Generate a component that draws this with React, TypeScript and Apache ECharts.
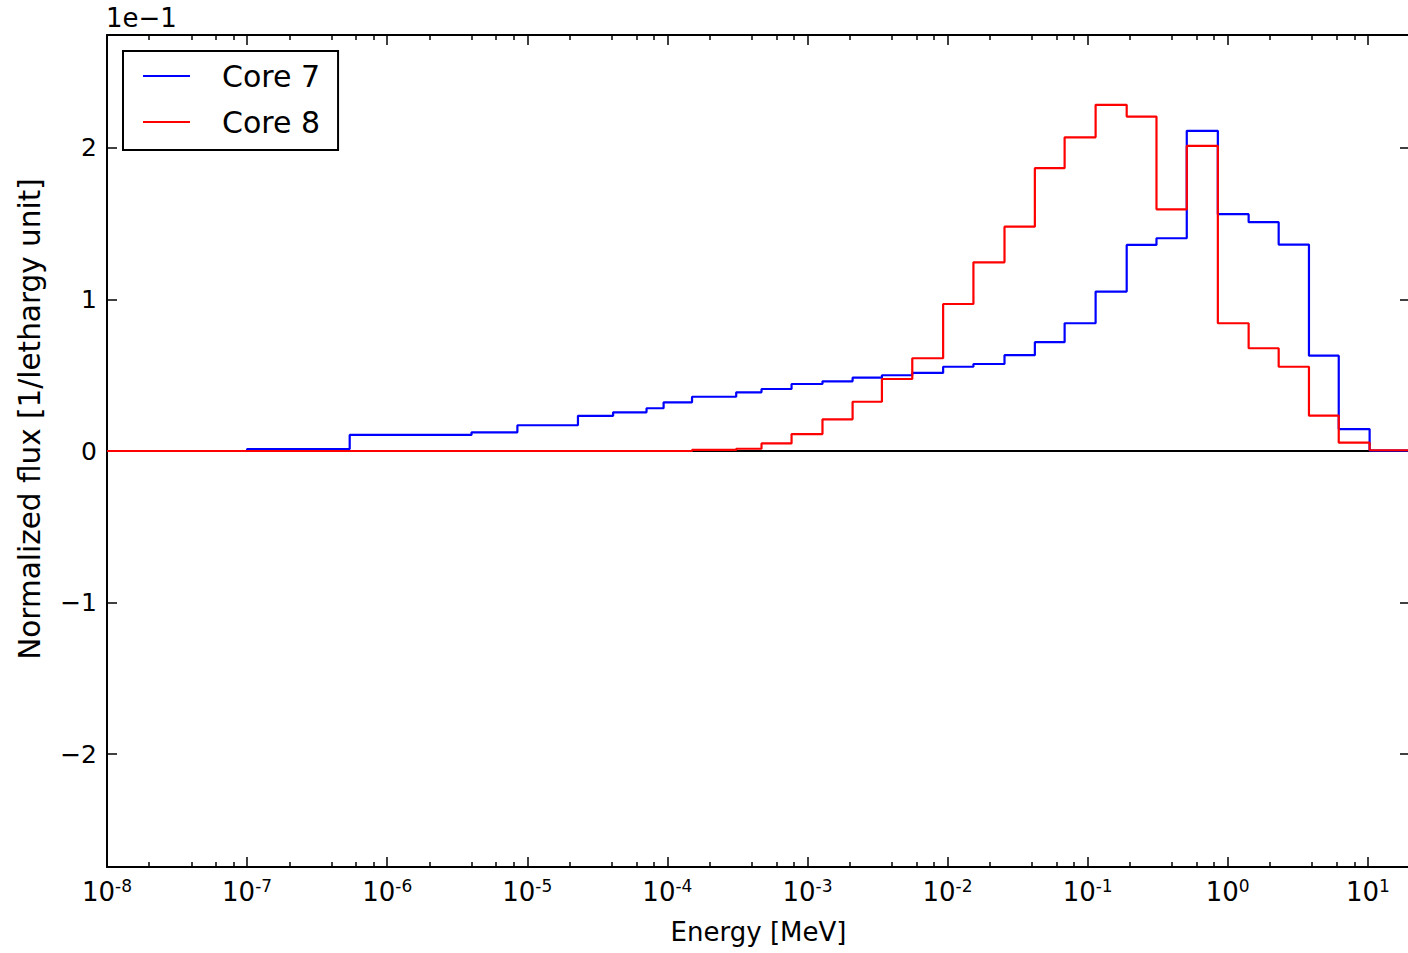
import React, { useEffect, useRef } from "react";
import * as echarts from "echarts";

const FONT = "DejaVu Sans";

// Energy group boundaries [MeV]
const energyEdges = [
  1e-8, 1e-7, 5.4e-7, 4.0e-6, 8.5e-6, 2.3e-5, 4.1e-5, 7.1e-5, 9.4e-5, 1.5e-4,
  3.1e-4, 4.7e-4, 7.7e-4, 1.28e-3, 2.1e-3, 3.4e-3, 5.6e-3, 9.3e-3, 1.53e-2,
  2.55e-2, 4.2e-2, 6.85e-2, 0.114, 0.19, 0.31, 0.51, 0.85, 1.41, 2.31, 3.8,
  6.2, 10.3, 20,
];

// Normalized flux per group, in units of 1e-1 [1/lethargy unit]
const core7Flux = [
  0.0, 0.013, 0.106, 0.123, 0.17, 0.232, 0.255, 0.282, 0.321, 0.358, 0.387,
  0.409, 0.442, 0.46, 0.484, 0.5, 0.515, 0.556, 0.574, 0.632, 0.718, 0.843,
  1.052, 1.36, 1.404, 2.113, 1.563, 1.51, 1.362, 0.629, 0.145, 0.003,
];
const core8Flux = [
  0.0, 0.0, 0.0, 0.0, 0.0, 0.0, 0.0, 0.0, 0.0, 0.007, 0.015, 0.05, 0.112,
  0.209, 0.325, 0.475, 0.612, 0.97, 1.245, 1.48, 1.866, 2.07, 2.284, 2.207,
  1.595, 2.013, 0.843, 0.678, 0.556, 0.233, 0.055, 0.005,
];

const seriesNames = ["Core 7", "Core 8"];
const seriesColors = ["#0000ff", "#ff0000"];
const xMajorTicks = [1e-8, 1e-7, 1e-6, 1e-5, 1e-4, 1e-3, 1e-2, 1e-1, 1, 10];
const xMinorMultipliers = [2, 4, 6, 8];
const yTicks = [-2, -1, 0, 1, 2];
const xRange = [1e-8, 20];
const yRange = [-2.745, 2.745];
const offsetText = "1e\u22121";

function stepPoints(edges: number[], vals: number[]) {
  const pts: number[][] = [];
  vals.forEach((v, i) => {
    pts.push([edges[i], v]);
    pts.push([edges[i + 1], v]);
  });
  return pts;
}

const xMinorTicks: number[] = [];
xMajorTicks.forEach((d) => {
  xMinorMultipliers.forEach((m) => {
    const v = Number((m * d).toPrecision(6));
    if (v > xRange[0] && v < xRange[1]) xMinorTicks.push(v);
  });
});

export default function App() {
  const ref = useRef<HTMLDivElement>(null);

  useEffect(() => {
    if (!ref.current) return;
    const chart = echarts.init(ref.current, null, { renderer: "svg" });

    const logAxisBase = {
      type: "log" as const,
      logBase: 10,
      min: xRange[0],
      max: xRange[1],
      gridIndex: 0,
      splitLine: { show: false },
      minorTick: { show: false },
      minorSplitLine: { show: false },
    };
    const spine = { show: true, onZero: false, lineStyle: { color: "#000", width: 2 } };
    const noLine = { show: false, onZero: false };

    const option: any = {
      animation: false,
      backgroundColor: "#ffffff",
      textStyle: { fontFamily: FONT },
      title: {
        text: offsetText,
        left: 106,
        top: 5,
        padding: 0,
        textStyle: { fontFamily: FONT, fontSize: 26, fontWeight: "normal", color: "#000" },
      },
      legend: {
        data: seriesNames,
        orient: "vertical",
        left: 123,
        top: 51,
        backgroundColor: "#ffffff",
        borderColor: "#000",
        borderWidth: 2,
        borderRadius: 0,
        padding: [7, 18, 10, 20],
        itemGap: 10,
        itemWidth: 47,
        itemHeight: 2,
        icon: "rect",
        textStyle: {
          fontFamily: FONT,
          fontSize: 30,
          color: "#000",
          lineHeight: 36,
          padding: [0, 0, 0, 27],
        },
      },
      grid: {
        left: 107,
        right: -2,
        top: 35,
        bottom: 86,
        containLabel: false,
        outerBoundsMode: "none",
      },
      xAxis: [
        {
          ...logAxisBase,
          position: "bottom",
          axisLine: spine,
          axisTick: {
            show: true,
            inside: true,
            length: 10,
            customValues: xMajorTicks,
            lineStyle: { color: "#000", width: 1.5 },
          },
          axisLabel: {
            show: true,
            customValues: xMajorTicks,
            margin: 10,
            formatter: (v: number) => `{b|10}{s|${Math.round(Math.log10(v))}}`,
            rich: {
              b: { fontFamily: FONT, fontSize: 26, color: "#000" },
              s: { fontFamily: FONT, fontSize: 17, color: "#000", padding: [0, 0, 12, 0] },
            },
          },
          name: "Energy [MeV]",
          nameLocation: "middle",
          nameGap: 52,
          nameTextStyle: { fontFamily: FONT, fontSize: 26, color: "#000" },
        },
        {
          ...logAxisBase,
          position: "bottom",
          axisLine: noLine,
          axisTick: {
            show: true,
            inside: true,
            length: 5,
            customValues: xMinorTicks,
            lineStyle: { color: "#000", width: 1.5 },
          },
          axisLabel: { show: false },
        },
        {
          ...logAxisBase,
          position: "top",
          axisLine: spine,
          axisTick: {
            show: true,
            inside: true,
            length: 10,
            customValues: xMajorTicks,
            lineStyle: { color: "#000", width: 1.5 },
          },
          axisLabel: { show: false },
        },
        {
          ...logAxisBase,
          position: "top",
          axisLine: noLine,
          axisTick: {
            show: true,
            inside: true,
            length: 5,
            customValues: xMinorTicks,
            lineStyle: { color: "#000", width: 1.5 },
          },
          axisLabel: { show: false },
        },
      ],
      yAxis: [
        {
          type: "value",
          min: yRange[0],
          max: yRange[1],
          position: "left",
          axisLine: spine,
          splitLine: { show: false },
          axisTick: {
            show: true,
            inside: true,
            length: 10,
            customValues: yTicks,
            lineStyle: { color: "#000", width: 1.5 },
          },
          axisLabel: {
            show: true,
            customValues: yTicks,
            margin: 10,
            fontFamily: FONT,
            fontSize: 25,
            color: "#000",
            formatter: (v: number) => (v < 0 ? "\u2212" + Math.abs(v) : String(v)),
          },
          name: "Normalized flux [1/lethargy unit]",
          nameLocation: "middle",
          nameGap: 62,
          nameTextStyle: {
            fontFamily: FONT,
            fontSize: 29.5,
            color: "#000",
            padding: [0, 0, 0, 64],
          },
        },
        {
          type: "value",
          min: yRange[0],
          max: yRange[1],
          position: "right",
          axisLine: spine,
          splitLine: { show: false },
          axisTick: {
            show: true,
            inside: true,
            length: 10,
            customValues: yTicks,
            lineStyle: { color: "#000", width: 1.5 },
          },
          axisLabel: { show: false },
        },
      ],
      series: [
        {
          name: "zero",
          type: "line",
          xAxisIndex: 0,
          yAxisIndex: 0,
          data: [
            [xRange[0], 0],
            [xRange[1], 0],
          ],
          symbol: "none",
          silent: true,
          lineStyle: { color: "#000", width: 2 },
          itemStyle: { color: "#000" },
          z: 1,
        },
        {
          name: seriesNames[0],
          type: "line",
          xAxisIndex: 0,
          yAxisIndex: 0,
          data: stepPoints(energyEdges, core7Flux),
          symbol: "none",
          showSymbol: false,
          lineStyle: { color: seriesColors[0], width: 2.2 },
          itemStyle: { color: seriesColors[0] },
          z: 2,
        },
        {
          name: seriesNames[1],
          type: "line",
          xAxisIndex: 0,
          yAxisIndex: 0,
          data: stepPoints(energyEdges, core8Flux),
          symbol: "none",
          showSymbol: false,
          lineStyle: { color: seriesColors[1], width: 2.2 },
          itemStyle: { color: seriesColors[1] },
          z: 3,
        },
      ],
    };

    chart.setOption(option);
    return () => {
      chart.dispose();
    };
  }, []);

  return (
    <div
      ref={ref}
      style={{ position: "absolute", left: 0, top: 0, width: 1408, height: 953, background: "#fff" }}
    />
  );
}
